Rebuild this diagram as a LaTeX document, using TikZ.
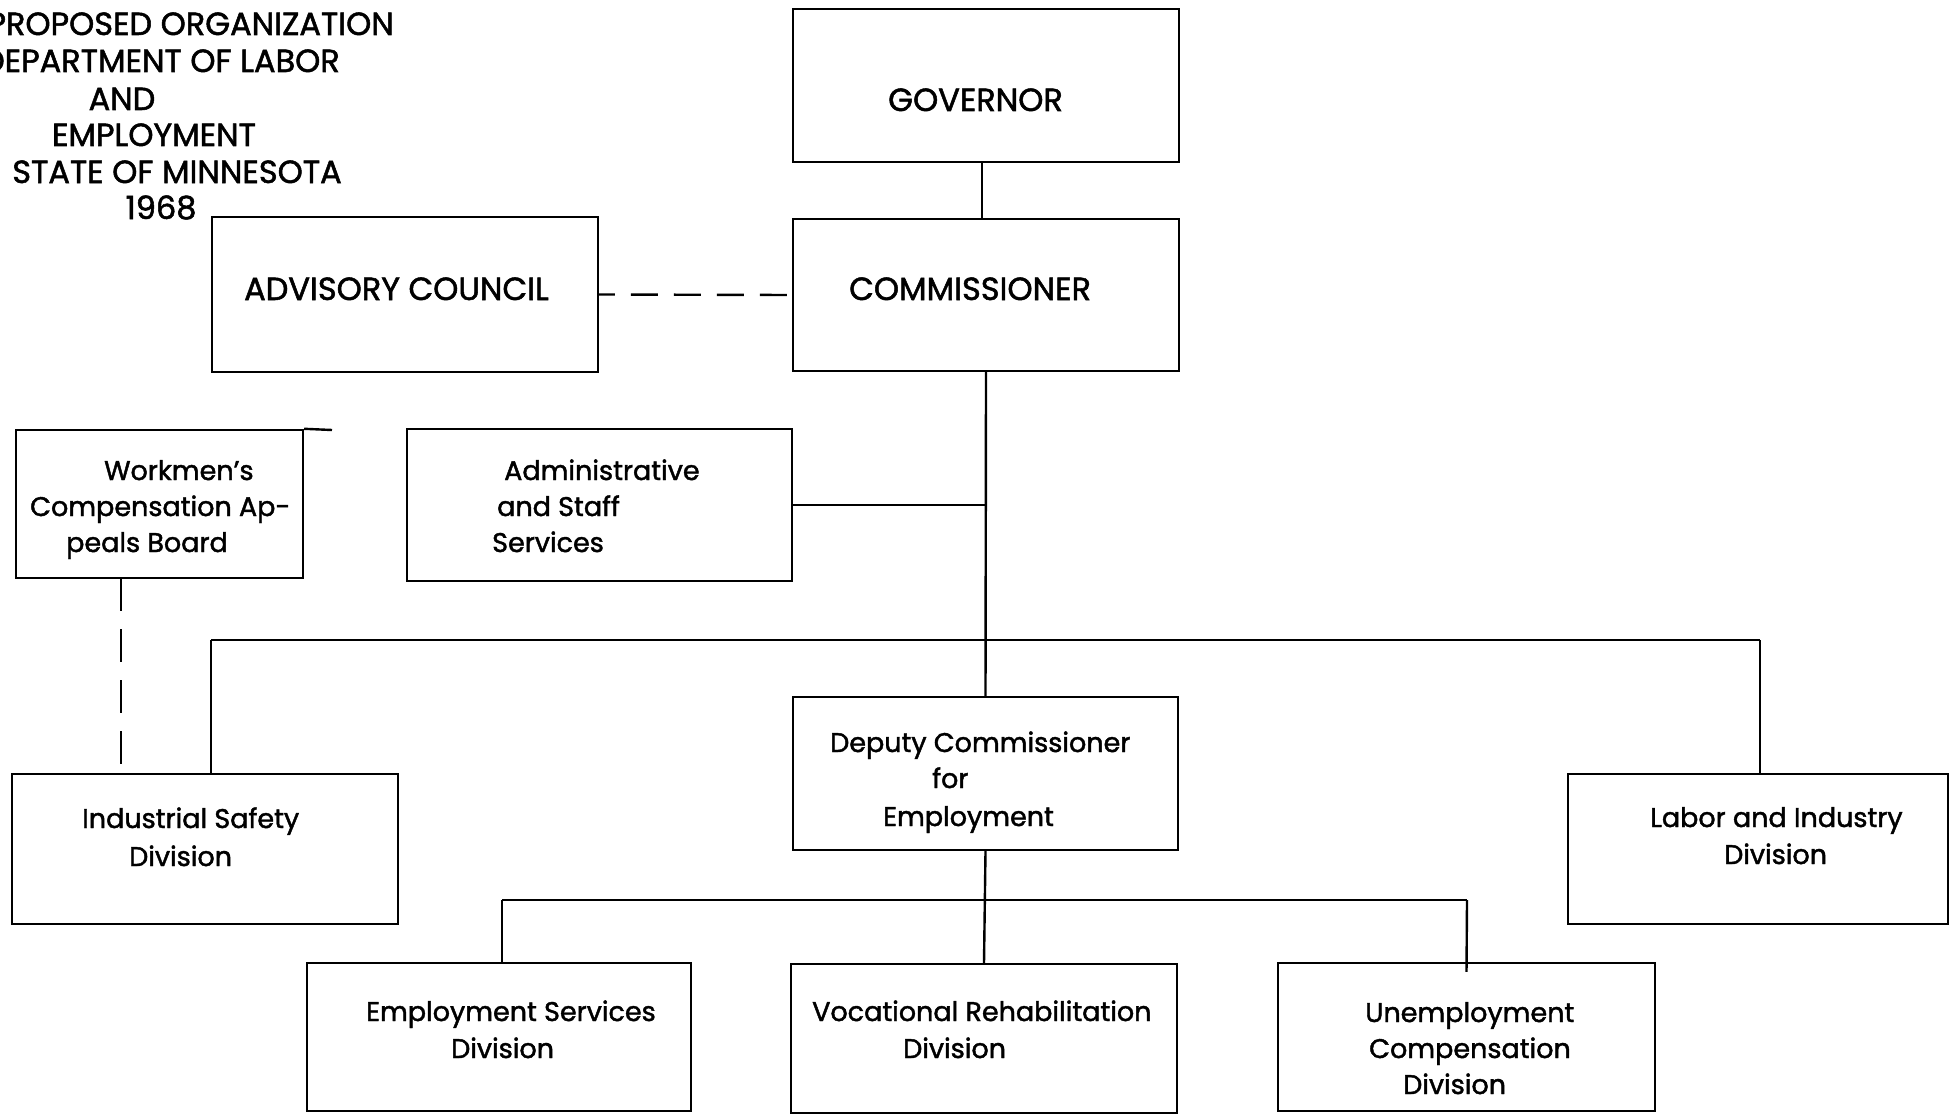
\documentclass[tikz,border=0pt]{standalone}
\usepackage{fontspec}
\setmainfont{Poppins}[FakeBold=1.6]
\begin{document}
\begin{tikzpicture}[x=1pt,y=-1pt,
  box/.style={draw,line width=2.4pt,inner sep=0pt},
  conn/.style={line width=2.4pt},
  txt/.style={anchor=base west,inner sep=0pt,font=\fontsize{27}{30}\selectfont},
  captxt/.style={anchor=base west,inner sep=0pt,font=\fontsize{32}{36}\selectfont},
  ttl/.style={anchor=base,inner sep=0pt,font=\fontsize{32}{36}\selectfont},
  ttlr/.style={anchor=base east,inner sep=0pt,font=\fontsize{32}{36}\selectfont},
  dashh/.style={line width=2.4pt,dash pattern=on 27pt off 16pt,dash phase=-5pt},
  dashv/.style={line width=2.4pt,dash pattern=on 33pt off 18pt}]
\fill[white] (0,0) rectangle (1950,1113);
\useasboundingbox (0,0) rectangle (1950,1113);
% boxes
\node[box,minimum width=386pt,minimum height=153pt] (gov) at (986,85.5) {};
\node[box,minimum width=386pt,minimum height=152pt] (comm) at (986,295) {};
\node[box,minimum width=386pt,minimum height=155pt] (adv) at (405,294.5) {};
\node[box,minimum width=287pt,minimum height=148pt] (work) at (159.5,504) {};
\node[box,minimum width=385pt,minimum height=152pt] (admin) at (599.5,505) {};
\node[box,minimum width=385pt,minimum height=153pt] (dep) at (985.5,773.5) {};
\node[box,minimum width=386pt,minimum height=150pt] (ind) at (205,849) {};
\node[box,minimum width=380pt,minimum height=150pt] (lab) at (1758,849) {};
\node[box,minimum width=384pt,minimum height=148pt] (emp) at (499,1037) {};
\node[box,minimum width=386pt,minimum height=149pt] (voc) at (984,1038.5) {};
\node[box,minimum width=377pt,minimum height=148pt] (unemp) at (1466.5,1037) {};
% title
\node[ttlr] (t1) at (394,35) {PROPOSED ORGANIZATION};
\node[ttlr] (t2) at (340,72) {DEPARTMENT OF LABOR};
\node[ttl] (t3) at (122,110) {AND};
\node[ttl] (t4) at (154,146) {EMPLOYMENT};
\node[ttl] (t5) at (177,183) {STATE OF MINNESOTA};
\node[ttl] (t6) at (161,219) {1968};
% box texts
\node[captxt] (govt) at (888,111) {GOVERNOR};
\node[captxt] (commt) at (849,300) {COMMISSIONER};
\node[captxt] (advt) at (244,300) {ADVISORY COUNCIL};
\node[txt] (w1) at (104,480) {Workmen's};
\node[txt] (w2) at (30,516) {Compensation Ap-};
\node[txt] (w3) at (66,552) {peals Board};
\node[txt] (a1) at (504,480) {Administrative};
\node[txt] (a2) at (497,516) {and Staff};
\node[txt] (a3) at (492,552) {Services};
\node[txt] (d1) at (830,752) {Deputy Commissioner};
\node[txt] (d2) at (932,788) {for};
\node[txt] (d3) at (883,826) {Employment};
\node[txt] (i1) at (82,828) {Industrial Safety};
\node[txt] (i2) at (129,866) {Division};
\node[txt] (l1) at (1650,827) {Labor and Industry};
\node[txt] (l2) at (1724,864) {Division};
\node[txt] (e1) at (366,1021) {Employment Services};
\node[txt] (e2) at (451,1058) {Division};
\node[txt] (v1) at (812,1021) {Vocational Rehabilitation};
\node[txt] (v2) at (903,1058) {Division};
\node[txt] (u1) at (1365,1022) {Unemployment};
\node[txt] (u2) at (1369,1058) {Compensation};
\node[txt] (u3) at (1403,1094) {Division};
% connectors
\coordinate (bl) at (211,640);
\coordinate (br) at (1760,640);
\coordinate (b2l) at (502,900);
\coordinate (b2r) at (1467,900);
\coordinate (wd) at (121,578);
\coordinate (wext) at (332,430);
\coordinate (gc) at (982,162);
\draw[conn] (work.north east) -- (wext);
\draw[conn] (gc) -- (gc |- comm.north);
\draw[conn] (comm.south) -- (dep.north);
\draw[dashh] (comm.west) -- (adv.east);
\draw[conn] (admin.east) -- (admin.east -| comm.south);
\draw[conn] (bl) -- (br);
\draw[conn] (bl) -- (bl |- ind.north);
\draw[conn] (br) -- (br |- lab.north);
\draw[dashv] (wd) -- (wd |- ind.north);
\draw[conn] (b2l) -- (b2r);
\draw[conn] (b2l) -- (b2l |- emp.north);
\draw[conn] (dep.south) -- (voc.north);
\draw[conn] (b2r) -- ([yshift=-10pt]unemp.north);
\end{tikzpicture}
\end{document}
